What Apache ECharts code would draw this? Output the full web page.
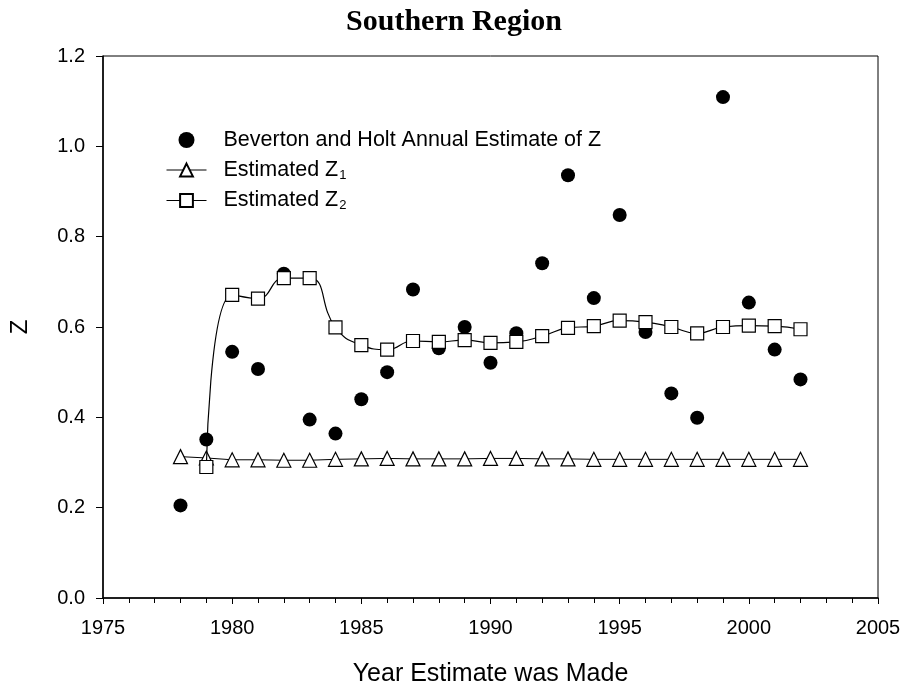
<!DOCTYPE html>
<html>
<head>
<meta charset="utf-8">
<script src="https://cdn.jsdelivr.net/npm/echarts@6/dist/echarts.min.js"></script>
<style>
  html, body { margin: 0; padding: 0; background: #fff; }
  #chart { width: 908px; height: 692px; }
</style>
</head>
<body>
<div id="chart"></div>
<script>
// years the estimates were made
const years = [1978, 1979, 1980, 1981, 1982, 1983, 1984, 1985, 1986, 1987, 1988, 1989, 1990,
  1991, 1992, 1993, 1994, 1995, 1996, 1997, 1998, 1999, 2000, 2001, 2002]

// Beverton and Holt annual estimate of Z
const bhZ = [0.205, 0.351, 0.545, 0.507, 0.718, 0.395, 0.364, 0.440, 0.500, 0.683, 0.553, 0.600, 0.521,
  0.586, 0.741, 0.936, 0.664, 0.848, 0.589, 0.453, 0.399, 1.109, 0.654, 0.550, 0.484]

// estimated Z1 (starts 1978)
const z1 = [0.313, 0.310, 0.306, 0.306, 0.305, 0.305, 0.307, 0.308, 0.309, 0.308, 0.308, 0.308, 0.309,
  0.309, 0.308, 0.308, 0.307, 0.307, 0.307, 0.307, 0.307, 0.307, 0.307, 0.307, 0.307]

// estimated Z2 (starts 1979)
const z2Years = years.slice(1)
const z2 = [0.290, 0.671, 0.663, 0.708, 0.708, 0.599, 0.560, 0.550, 0.569, 0.567, 0.571, 0.565,
  0.567, 0.580, 0.598, 0.602, 0.614, 0.611, 0.600, 0.586, 0.600, 0.603, 0.602, 0.595]

const xTicks = [1975, 1980, 1985, 1990, 1995, 2000, 2005]
const yTicks = [0.0, 0.2, 0.4, 0.6, 0.8, 1.0, 1.2]

const pair = (xs, ys) => xs.map((x, i) => [x, ys[i]])

const chart = echarts.init(document.getElementById('chart'))
const font = 'Liberation Sans, Arial, sans-serif'

chart.setOption({
  animation: false,
  backgroundColor: '#fff',
  title: {
    text: 'Southern Region',
    left: 'center',
    top: 2,
    textStyle: { fontFamily: 'Liberation Serif, Times New Roman, serif', fontWeight: 'bold', fontSize: 30, color: '#000' }
  },
  legend: {
    orient: 'vertical',
    left: 161,
    top: 124,
    itemWidth: 40,
    itemHeight: 16,
    itemGap: 8,
    data: ['bh', 'z1', 'z2'],
    lineStyle: { width: 1 },
    formatter: function (name) {
      if (name === 'bh') return 'Beverton and Holt Annual Estimate of Z'
      if (name === 'z1') return '{t|Estimated Z}{s|1}'
      return '{t|Estimated Z}{s|2}'
    },
    textStyle: {
      fontFamily: font, fontSize: 21.5, color: '#000', padding: [0, 0, 0, 12],
      rich: {
        t: { fontFamily: font, fontSize: 21.5, color: '#000' },
        s: { fontFamily: font, fontSize: 13, color: '#000', verticalAlign: 'bottom', padding: [10, 0, 0, 1] }
      }
    }
  },
  grid: {
    left: 100, right: 30, top: 56, bottom: 91,
    show: true, borderColor: '#000', borderWidth: 1
  },
  xAxis: {
    type: 'value',
    min: xTicks[0],
    max: xTicks[xTicks.length - 1],
    interval: 5,
    name: 'Year Estimate was Made',
    nameLocation: 'middle',
    nameGap: 64,
    nameTextStyle: { fontFamily: font, fontSize: 25, color: '#000' },
    axisLine: { lineStyle: { color: '#000', width: 1.5 } },
    axisTick: { inside: false, length: 6, lineStyle: { color: '#000' } },
    minorTick: { show: true, splitNumber: 5, length: 5, lineStyle: { color: '#000' } },
    axisLabel: { fontFamily: font, fontSize: 20, color: '#000', margin: 20, formatter: v => String(v) },
    splitLine: { show: false }
  },
  yAxis: {
    type: 'value',
    min: yTicks[0],
    max: yTicks[yTicks.length - 1],
    interval: 0.2,
    name: 'Z',
    nameLocation: 'middle',
    nameRotate: 90,
    nameGap: 71,
    nameTextStyle: { fontFamily: font, fontSize: 24, color: '#000' },
    axisLine: { lineStyle: { color: '#000', width: 1.5 } },
    axisTick: { inside: false, length: 7, lineStyle: { color: '#000' } },
    axisLabel: { fontFamily: font, fontSize: 20, color: '#000', margin: 18, formatter: v => v.toFixed(1) },
    splitLine: { show: false }
  },
  series: [
    {
      name: 'bh',
      type: 'scatter',
      data: pair(years, bhZ),
      symbol: 'circle',
      symbolSize: 14,
      itemStyle: { color: '#000', opacity: 1 },
      z: 2
    },
    {
      name: 'z1',
      type: 'line',
      data: pair(years, z1),
      symbol: 'triangle',
      symbolSize: 14,
      showAllSymbol: true,
      lineStyle: { color: '#000', width: 1 },
      itemStyle: { color: '#fff', borderColor: '#000', borderWidth: 1.2 },
      z: 3
    },
    {
      name: 'z2',
      type: 'line',
      data: pair(z2Years, z2),
      symbol: 'rect',
      symbolSize: 13,
      showAllSymbol: true,
      smooth: 0.5,
      lineStyle: { color: '#000', width: 1.2 },
      itemStyle: { color: '#fff', borderColor: '#000', borderWidth: 1.2 },
      z: 4
    }
  ]
})
</script>
</body>
</html>
